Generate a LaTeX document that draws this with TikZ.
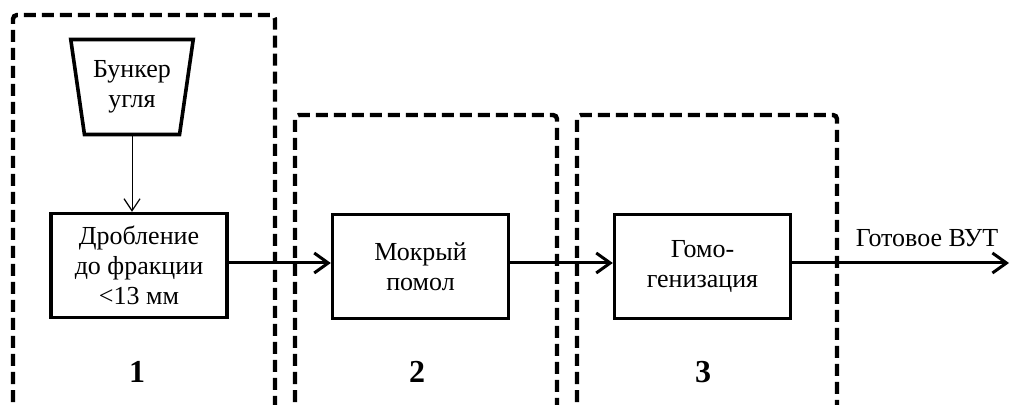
\documentclass[tikz,border=0pt]{standalone}
\usepackage{fontspec}
\setmainfont{Liberation Serif}
\usepackage{tikz}
\usetikzlibrary{arrows.meta,positioning,shapes.geometric}

\begin{document}
\begin{tikzpicture}[x=0.5pt, y=-0.5pt,
  font=\fontsize{13}{15}\selectfont,
  zone/.style={line width=2.2pt, dash pattern=on 6pt off 3pt, rounded corners=2pt},
  blk/.style={draw, line width=1.7pt, minimum width=88pt, minimum height=52pt, align=center, inner sep=0pt},
  flow/.style={line width=1.5pt, -{Straight Barb[length=7pt, width=10pt, line width=1.5pt]}},
  feed/.style={line width=0.5pt, -{Straight Barb[length=6pt, width=8pt, line width=0.6pt]}},
  num/.style={font=\fontsize{16}{18}\selectfont\bfseries}]
\useasboundingbox (0,0) rectangle (1011,405);
% ---- dashed zones (run off the bottom edge) ----
\draw[zone] (13,420) -- (13,15) -- (275,15) -- (275,420);
\draw[zone] (295,420) -- (295,115) -- (557,115) -- (557,420);
\draw[zone] (577,420) -- (577,115) -- (837,115) -- (837,420);
% ---- zone 1: bunker and crusher ----
\node[draw, line width=1.8pt, trapezium, shape border rotate=180,
  trapezium stretches=true, trapezium angle=78,
  minimum width=61.5pt, minimum height=47.5pt, align=center, inner sep=0pt]
  (bunker) at (132,87) {Бункер\\ угля};
\node[blk] (crush) at (139,265.5) {Дробление\\ до фракции\\ {<}13 мм};
\node[num] (n1) at (137,372) {1};
% ---- zone 2: wet milling ----
\node[blk] (mill) at (420.5,266.5) {Мокрый\\ помол};
\node[num] (n2) at (417,372) {2};
% ---- zone 3: homogenisation ----
\node[blk] (homog) at (702.5,266.5) {Гомо-\\ генизация};
\node[num] (n3) at (703,372) {3};
% ---- connectors ----
\draw[feed] (bunker.south) -- (bunker.south |- crush.north);
\draw[flow] (crush.east |- 0,263) -- (mill.west |- 0,263);
\draw[flow] (mill.east |- 0,263) -- (homog.west |- 0,263);
\coordinate (out) at (1009,263);
\draw[flow] (homog.east |- 0,263) -- (out);
\node (prod) at (927,238) {Готовое ВУТ};
\end{tikzpicture}
\end{document}
